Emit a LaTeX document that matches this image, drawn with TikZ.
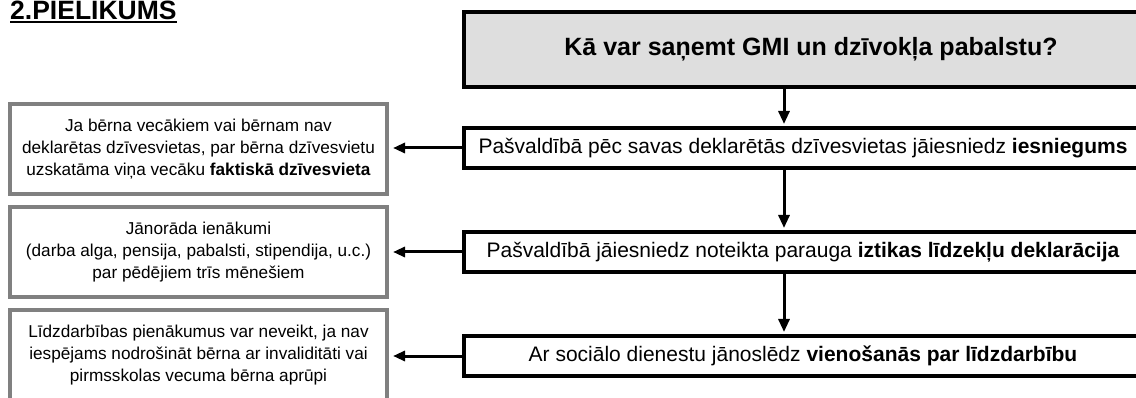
\documentclass[tikz,border=0pt]{standalone}
\usepackage{fontspec}
\setmainfont{Liberation Sans}
\usetikzlibrary{arrows.meta}
\definecolor{boxgrey}{RGB}{128,128,128}
\definecolor{headfill}{RGB}{222,222,222}
\begin{document}
\begin{tikzpicture}[x=1pt,y=-1pt,
  leftbox/.style={draw=boxgrey, line width=4pt, minimum width=377pt, minimum height=90pt,
    align=center, inner sep=0pt, font=\fontsize{17.2}{22}\selectfont},
  rightbox/.style={draw=black, line width=4pt, minimum width=678pt, minimum height=40pt,
    align=center, inner sep=0pt, font=\fontsize{21}{25}\selectfont},
  headbox/.style={draw=black, fill=headfill, line width=4pt, minimum width=694pt, minimum height=75pt,
    align=center, inner sep=0pt, font=\fontsize{25}{30}\selectfont\bfseries},
  varr/.style={line width=3pt, -{Triangle[width=11pt,length=13pt]}, shorten >=2pt},
  harr/.style={line width=3pt, -{Triangle[width=10pt,length=12pt]}, shorten >=4pt}
]
\useasboundingbox (0,0) rectangle (1136,398);
\clip (0,0) rectangle (1136,398);
\fill[white] (0,0) rectangle (1136,398);

% title
\node[anchor=base west, inner sep=0pt, font=\fontsize{26.5}{30}\selectfont\bfseries] (pt) at (10,19.5) {2.PIELIKUMS};
\draw[line width=2pt] ([yshift=-2.4pt]pt.base west) -- ([yshift=-2.4pt]pt.base east);

% right column
\node[headbox] (h) at (811,49.5) {Kā var saņemt GMI un dzīvokļa pabalstu?};
\node[rightbox] (r1) at (803,148) {Pašvaldībā pēc savas deklarētās dzīvesvietas jāiesniedz \textbf{iesniegums}};
\node[rightbox] (r2) at (803,252) {Pašvaldībā jāiesniedz noteikta parauga \textbf{iztikas līdzekļu deklarācija}};
\node[rightbox] (r3) at (803,356) {Ar sociālo dienestu jānoslēdz \textbf{vienošanās par līdzdarbību}};

% left column
\node[leftbox] (l1) at (198.5,149) {Ja bērna vecākiem vai bērnam nav\\deklarētas dzīvesvietas, par bērna dzīvesvietu\\uzskatāma viņa vecāku \textbf{faktiskā dzīvesvieta}};
\node[leftbox] (l2) at (198.5,252) {Jānorāda ienākumi\\(darba alga, pensija, pabalsti, stipendija, u.c.)\\par pēdējiem trīs mēnešiem};
\node[leftbox] (l3) at (198.5,355) {Līdzdarbības pienākumus var neveikt, ja nav\\iespējams nodrošināt bērna ar invaliditāti vai\\pirmsskolas vecuma bērna aprūpi};

% arrow column
\coordinate (col) at (784,0);
\draw[varr] (h.south -| col) -- (r1.north -| col);
\draw[varr] (r1.south -| col) -- (r2.north -| col);
\draw[varr] (r2.south -| col) -- (r3.north -| col);

\draw[harr] (r1.west) -- (l1.east |- r1.west);
\draw[harr] (r2.west) -- (l2.east |- r2.west);
\draw[harr] (r3.west) -- (l3.east |- r3.west);
\end{tikzpicture}
\end{document}
